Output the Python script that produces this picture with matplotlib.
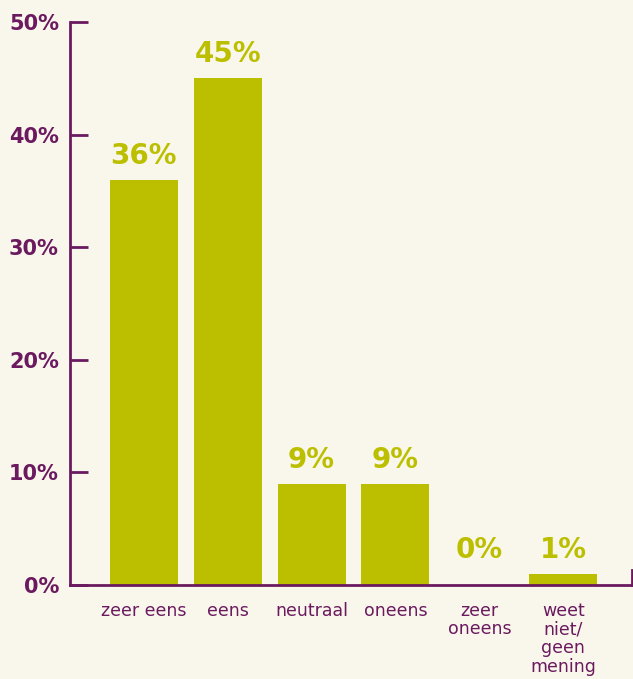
import matplotlib
matplotlib.use("Agg")
import matplotlib.pyplot as plt

categories = ["zeer eens", "eens", "neutraal", "oneens", "zeer\noneens", "weet\nniet/\ngeen\nmening"]
values = [36, 45, 9, 9, 0, 1]
yticks = [0, 10, 20, 30, 40, 50]

bg = "#f9f7eb"
purple = "#6b1a5f"
olive = "#bcbf00"

plt.rcParams['font.family'] = ['DejaVu Sans']

fig = plt.figure(figsize=(6.33, 6.79), dpi=100, facecolor=bg)
ax = fig.add_axes([70/633, 94/679, 562/633, 563/679])
ax.set_facecolor(bg)

x = list(range(len(categories)))
ax.bar(x, values, width=0.81, color=olive, zorder=2)

# labels sit at least one unit above the axis, as in the original
for xi, v in zip(x, values):
    ax.text(xi, max(v, 1) + 0.9, f"{v}%", ha="center", va="bottom",
            color=olive, fontsize=20, weight="bold")

ax.set_xlim(-0.88, 5.82)
ax.set_ylim(0, 50)

ax.set_yticks(yticks)
ax.set_yticklabels([f"{t}%" for t in yticks], fontsize=15, fontweight="bold",
                   color=purple)
ax.tick_params(axis="y", direction="in", length=13, width=2, color=purple, pad=8)

ax.set_xticks(x)
ax.set_xticklabels(categories, fontsize=12.5, color=purple, linespacing=1.05)
ax.tick_params(axis="x", length=0, pad=12)

ax.spines["top"].set_visible(False)
for side in ["left", "bottom", "right"]:
    ax.spines[side].set_color(purple)
    ax.spines[side].set_linewidth(2)
ax.spines["right"].set_bounds(0, 1.3)

fig.savefig("out.png", dpi=100, facecolor=bg)
